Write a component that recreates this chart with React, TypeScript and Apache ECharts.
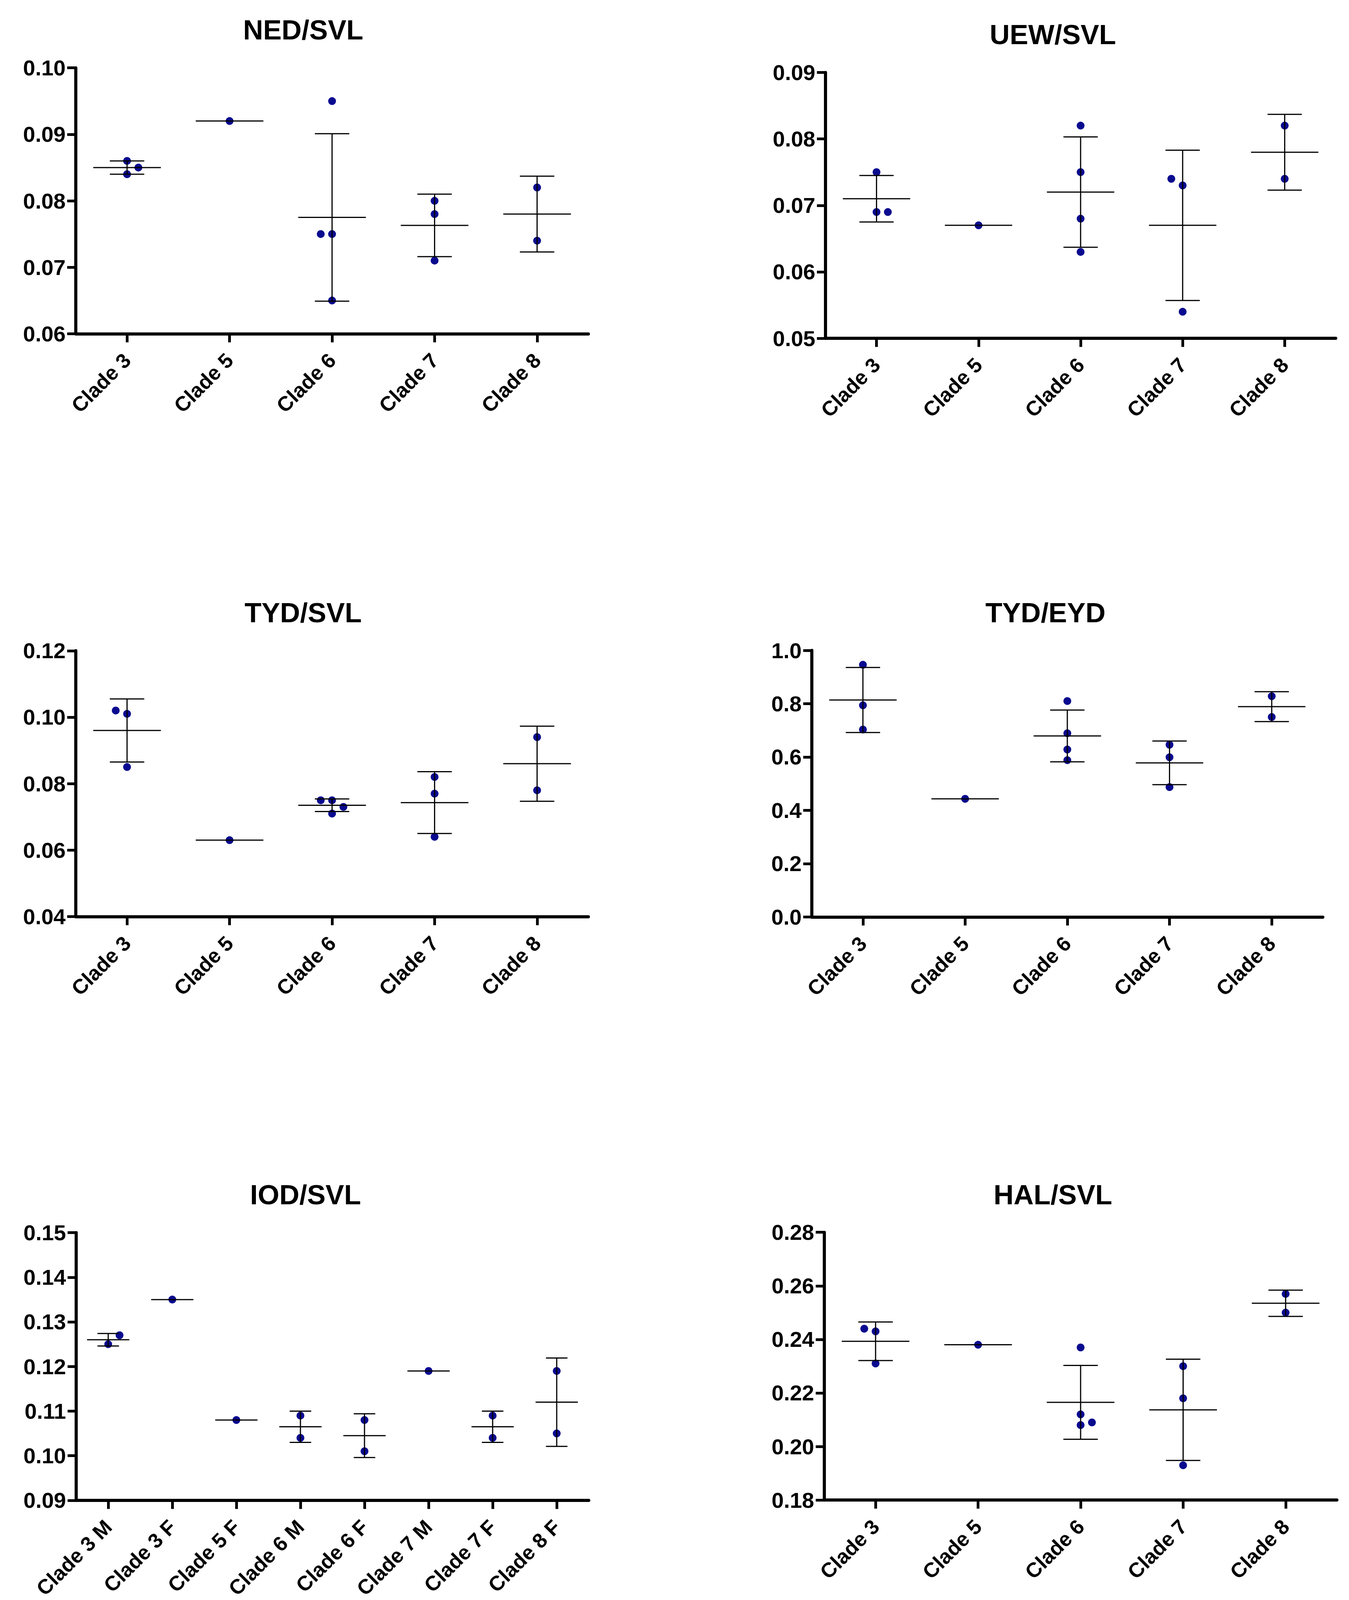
import React, { useEffect, useRef } from "react";
import * as echarts from "echarts";

// ---------------- DATA ----------------
const cladeCats = ["Clade 3", "Clade 5", "Clade 6", "Clade 7", "Clade 8"];
const sexCats = ["Clade 3 M", "Clade 3 F", "Clade 5 F", "Clade 6 M", "Clade 6 F", "Clade 7 M", "Clade 7 F", "Clade 8 F"];

// NED/SVL
const nedPoints = [[0.086, 0.085, 0.084], [0.092], [0.095, 0.075, 0.075, 0.065], [0.080, 0.078, 0.071], [0.082, 0.074]];
const nedJitter = [[0, 1, 0], [0], [0, -1, 0, 0], [0, 0, 0], [0, 0]];
const nedMeans = [0.085, 0.092, 0.0775, 0.0763, 0.078];
const nedSds = [0.001, null, 0.0126, 0.0047, 0.0057];
const nedTicks = [0.06, 0.10, 0.01];

// UEW/SVL
const uewPoints = [[0.075, 0.069, 0.069], [0.067], [0.082, 0.075, 0.068, 0.063], [0.074, 0.073, 0.054], [0.082, 0.074]];
const uewJitter = [[0, 0, 1], [0], [0, 0, 0, 0], [-1, 0, 0], [0, 0]];
const uewMeans = [0.071, 0.067, 0.072, 0.067, 0.078];
const uewSds = [0.0035, null, 0.0083, 0.0113, 0.0057];
const uewTicks = [0.05, 0.09, 0.01];

// TYD/SVL
const tydSvlPoints = [[0.102, 0.101, 0.085], [0.063], [0.075, 0.075, 0.073, 0.071], [0.082, 0.077, 0.064], [0.094, 0.078]];
const tydSvlJitter = [[-1, 0, 0], [0], [-1, 0, 1, 0], [0, 0, 0], [0, 0]];
const tydSvlMeans = [0.096, 0.063, 0.0735, 0.0743, 0.086];
const tydSvlSds = [0.0095, null, 0.0019, 0.0093, 0.0113];
const tydSvlTicks = [0.04, 0.12, 0.02];

// TYD/EYD
const tydEydPoints = [[0.946, 0.794, 0.703], [0.443], [0.810, 0.689, 0.628, 0.588], [0.646, 0.599, 0.487], [0.828, 0.750]];
const tydEydJitter = [[0, 0, 0], [0], [0, 0, 0, 0], [0, 0, 0], [0, 0]];
const tydEydMeans = [0.814, 0.443, 0.679, 0.578, 0.789];
const tydEydSds = [0.122, null, 0.097, 0.082, 0.056];
const tydEydTicks = [0.0, 1.0, 0.2];

// IOD/SVL
const iodPoints = [[0.125, 0.127], [0.135], [0.108], [0.109, 0.104], [0.108, 0.101], [0.119], [0.109, 0.104], [0.119, 0.105]];
const iodJitter = [[0, 1], [0], [0], [0, 0], [0, 0], [0], [0, 0], [0, 0]];
const iodMeans = [0.126, 0.135, 0.108, 0.1065, 0.1045, 0.119, 0.1065, 0.112];
const iodSds = [0.0014, null, null, 0.0035, 0.0049, null, 0.0035, 0.0099];
const iodTicks = [0.09, 0.15, 0.01];

// HAL/SVL
const halPoints = [[0.244, 0.243, 0.231], [0.238], [0.237, 0.212, 0.208, 0.209], [0.230, 0.218, 0.193], [0.257, 0.250]];
const halJitter = [[-1, 0, 0], [0], [0, 0, 0, 1], [0, 0, 0], [0, 0]];
const halMeans = [0.2393, 0.238, 0.2165, 0.2137, 0.2535];
const halSds = [0.0072, null, 0.0138, 0.0189, 0.0049];
const halTicks = [0.18, 0.28, 0.02];

const panels = [
  { title: "NED/SVL", cats: cladeCats, points: nedPoints, jitter: nedJitter, means: nedMeans, sds: nedSds, ticks: nedTicks, dec: 2 },
  { title: "UEW/SVL", cats: cladeCats, points: uewPoints, jitter: uewJitter, means: uewMeans, sds: uewSds, ticks: uewTicks, dec: 2 },
  { title: "TYD/SVL", cats: cladeCats, points: tydSvlPoints, jitter: tydSvlJitter, means: tydSvlMeans, sds: tydSvlSds, ticks: tydSvlTicks, dec: 2 },
  { title: "TYD/EYD", cats: cladeCats, points: tydEydPoints, jitter: tydEydJitter, means: tydEydMeans, sds: tydEydSds, ticks: tydEydTicks, dec: 1 },
  { title: "IOD/SVL", cats: sexCats, points: iodPoints, jitter: iodJitter, means: iodMeans, sds: iodSds, ticks: iodTicks, dec: 2 },
  { title: "HAL/SVL", cats: cladeCats, points: halPoints, jitter: halJitter, means: halMeans, sds: halSds, ticks: halTicks, dec: 2 },
];

// ---------------- LAYOUT (reference pixel space 3453 x 5235) ----------------
const REF_W = 3453;
const REF_H = 5235;
const layout = [
  { left: 194, top: 222, width: 1312, height: 870, tx: 771, ty: 92 },
  { left: 2113, top: 237, width: 1306, height: 870, tx: 2690, ty: 107 },
  { left: 194, top: 2129, width: 1312, height: 870, tx: 771, ty: 1998 },
  { left: 2078, top: 2128, width: 1308, height: 872, tx: 2671, ty: 1998 },
  { left: 195, top: 4033, width: 1312, height: 876, tx: 777, ty: 3902 },
  { left: 2110, top: 4032, width: 1312, height: 876, tx: 2690, ty: 3902 },
];

const FONT = "'Liberation Sans', Arial, Helvetica, sans-serif";
const POINT_COLOR = "#0a0a8f";

function makeRenderer(lw: number) {
  return function renderErrorBar(params: any, api: any) {
    const cat = api.value(0);
    const mean = api.value(1);
    const sd = api.value(2);
    const band = api.size([1, 0])[0];
    const c = api.coord([cat, mean]);
    const hm = band * 0.33;
    const hc = band * 0.168;
    const style = { stroke: "#000", lineWidth: lw };
    const children: any[] = [
      { type: "line", shape: { x1: c[0] - hm, y1: c[1], x2: c[0] + hm, y2: c[1] }, style },
    ];
    if (sd > 0) {
      const t = api.coord([cat, mean + sd]);
      const b = api.coord([cat, mean - sd]);
      children.push({ type: "line", shape: { x1: c[0], y1: t[1], x2: c[0], y2: b[1] }, style });
      children.push({ type: "line", shape: { x1: c[0] - hc, y1: t[1], x2: c[0] + hc, y2: t[1] }, style });
      children.push({ type: "line", shape: { x1: c[0] - hc, y1: b[1], x2: c[0] + hc, y2: b[1] }, style });
    }
    return { type: "group", children };
  };
}

function buildOption(W: number, H: number) {
  const sx = W / REF_W;
  const sy = H / REF_H;
  const fsc = Math.min(1, Math.sqrt(sx * sy) * 1.0);
  const titleSize = Math.round(80 * fsc);
  const tickSize = Math.round(63 * fsc);
  const catSize = Math.round(60 * fsc);

  const grid: any[] = [];
  const xAxis: any[] = [];
  const yAxis: any[] = [];
  const series: any[] = [];
  const title: any[] = [];

  panels.forEach((p, i) => {
    const L = layout[i];
    grid.push({ left: L.left * sx, top: L.top * sy, width: L.width * sx, height: L.height * sy, containLabel: false });
    title.push({
      text: p.title,
      left: L.tx * sx,
      top: L.ty * sy - titleSize / 2,
      textAlign: "center",
      textStyle: { fontFamily: FONT, fontWeight: "bold", fontSize: titleSize, color: "#000" },
    });
    xAxis.push({
      type: "category",
      gridIndex: i,
      data: p.cats,
      boundaryGap: true,
      axisLine: { show: true, onZero: false, lineStyle: { color: "#000", width: 8 } },
      axisTick: { show: true, alignWithLabel: true, length: 22, lineStyle: { color: "#000", width: 7 } },
      axisLabel: {
        interval: 0,
        rotate: 45,
        margin: Math.round(74 * Math.max(sy, 0.8)),
        fontFamily: FONT,
        fontWeight: "bold",
        fontSize: catSize,
        color: "#000",
      },
      splitLine: { show: false },
    });
    yAxis.push({
      type: "value",
      gridIndex: i,
      min: p.ticks[0],
      max: p.ticks[1],
      interval: p.ticks[2],
      axisLine: { show: true, lineStyle: { color: "#000", width: 8 } },
      axisTick: { show: true, length: 22, lineStyle: { color: "#000", width: 7 } },
      axisLabel: {
        margin: 26,
        fontFamily: FONT,
        fontWeight: "bold",
        fontSize: tickSize,
        color: "#000",
        formatter: (v: number) => v.toFixed(p.dec),
      },
      splitLine: { show: false },
    });

    const jitterPx = 29 * sx;
    const pts: any[] = [];
    p.points.forEach((group, ci) => {
      group.forEach((v, k) => {
        pts.push({ value: [ci, v], symbolOffset: [p.jitter[ci][k] * jitterPx, 0] });
      });
    });
    series.push({
      type: "scatter",
      xAxisIndex: i,
      yAxisIndex: i,
      data: pts,
      symbol: "circle",
      symbolSize: 20,
      itemStyle: { color: POINT_COLOR, opacity: 1 },
      z: 2,
      silent: true,
    });
    series.push({
      type: "custom",
      xAxisIndex: i,
      yAxisIndex: i,
      coordinateSystem: "cartesian2d",
      renderItem: makeRenderer(3),
      encode: { x: 0, y: 1 },
      data: p.means.map((m, ci) => [ci, m, p.sds[ci] == null ? 0 : p.sds[ci]]),
      z: 3,
      silent: true,
    });
  });

  return { animation: false, backgroundColor: "#fff", title, grid, xAxis, yAxis, series };
}

export default function App() {
  const ref = useRef<HTMLDivElement>(null);
  const W = Math.min(REF_W, typeof window !== "undefined" ? window.innerWidth || REF_W : REF_W);
  const H = Math.min(REF_H, typeof window !== "undefined" ? window.innerHeight || REF_H : REF_H);
  useEffect(() => {
    if (!ref.current) return;
    const chart = echarts.init(ref.current, null, { renderer: "svg" });
    chart.setOption(buildOption(W, H) as any);
    return () => chart.dispose();
  }, []);
  return (
    <div
      ref={ref}
      style={{ position: "absolute", left: 0, top: 0, width: W, height: H, background: "#fff", overflow: "hidden" }}
    />
  );
}
